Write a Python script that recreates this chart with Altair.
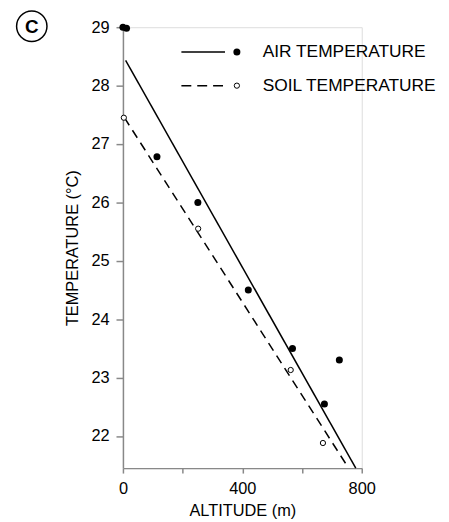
import altair as alt
import pandas as pd

# Air temperature observations (filled dots)
air_alt = [0, 12, 114, 251, 420, 568, 675, 725]
air_temp = [29.0, 28.98, 26.78, 26.0, 24.5, 23.5, 22.55, 23.3]

# Soil temperature observations (open dots)
soil_alt = [3, 252, 562, 670]
soil_temp = [27.45, 25.55, 23.13, 21.88]

# Regression lines (end points of fitted lines)
air_fit_alt = [9, 780]
air_fit_temp = [28.43, 21.45]
soil_fit_alt = [5, 756]
soil_fit_temp = [27.45, 21.45]

x_ticks = [0, 200, 400, 600, 800]
y_ticks = [22, 23, 24, 25, 26, 27, 28, 29]
legend_labels = ["AIR TEMPERATURE", "SOIL TEMPERATURE"]
panel_label = "C"

FONT = "Liberation Sans"

air_df = pd.DataFrame({"alt": air_alt, "temp": air_temp})
soil_df = pd.DataFrame({"alt": soil_alt, "temp": soil_temp})
air_fit = pd.DataFrame({"alt": air_fit_alt, "temp": air_fit_temp})
soil_fit = pd.DataFrame({"alt": soil_fit_alt, "temp": soil_fit_temp})

xscale = alt.Scale(domain=[0, 800], nice=False, zero=False)
yscale = alt.Scale(domain=[21.45, 29], nice=False, zero=False)

xaxis = alt.Axis(values=x_ticks, title="ALTITUDE (m)", tickSize=5, format="d",
                 labelExpr="datum.value % 400 == 0 ? datum.label : ''",
                 labelFontSize=16.5, titleFontSize=16.5, titleFontWeight="normal",
                 labelPadding=8, titlePadding=5, grid=False,
                 domainWidth=1.5, tickWidth=1.5, labelFlush=False)
yaxis = alt.Axis(values=y_ticks, title="TEMPERATURE (°C)", tickSize=7, format="d",
                 labelFontSize=16.5, titleFontSize=16.5, titleFontWeight="normal",
                 labelPadding=7, titlePadding=10, grid=False,
                 domainWidth=1.5, tickWidth=1.5)

base_x = alt.X("alt:Q", scale=xscale, axis=xaxis)
base_y = alt.Y("temp:Q", scale=yscale, axis=yaxis)

air_line = alt.Chart(air_fit).mark_line(color="black", strokeWidth=1.5).encode(
    x=alt.X("alt:Q", scale=xscale), y=alt.Y("temp:Q", scale=yscale))
soil_line = alt.Chart(soil_fit).mark_line(color="black", strokeWidth=1.5,
                                          strokeDash=[9, 6]).encode(
    x=alt.X("alt:Q", scale=xscale), y=alt.Y("temp:Q", scale=yscale))

air_pts = alt.Chart(air_df).mark_point(filled=True, color="black", size=50,
                                       opacity=1).encode(x=base_x, y=base_y)
soil_pts = alt.Chart(soil_df).mark_point(filled=False, color="black", size=28,
                                         strokeWidth=1, opacity=1,
                                         fill="white").encode(
    x=alt.X("alt:Q", scale=xscale), y=alt.Y("temp:Q", scale=yscale))

# Legend (drawn manually)
leg_air_line = alt.Chart().mark_rule(color="black", strokeWidth=1.5).encode(
    x=alt.value(59), x2=alt.value(103), y=alt.value(25))
leg_air_pt = alt.Chart().mark_point(filled=True, color="black", size=50,
                                    opacity=1).encode(
    x=alt.value(115), y=alt.value(25))
leg_air_txt = alt.Chart().mark_text(text=legend_labels[0], align="left",
                                    baseline="middle", font=FONT, fontSize=17.5,
                                    color="black").encode(
    x=alt.value(141), y=alt.value(25))
leg_soil_line = alt.Chart().mark_rule(color="black", strokeWidth=1.5,
                                      strokeDash=[10, 6]).encode(
    x=alt.value(59), x2=alt.value(103), y=alt.value(59))
leg_soil_pt = alt.Chart().mark_point(filled=False, color="black", size=28,
                                     strokeWidth=1, opacity=1).encode(
    x=alt.value(115), y=alt.value(59))
leg_soil_txt = alt.Chart().mark_text(text=legend_labels[1], align="left",
                                     baseline="middle", font=FONT, fontSize=17.5,
                                     color="black").encode(
    x=alt.value(141), y=alt.value(59))

# Panel label "C" in a circle
panel_circle = alt.Chart().mark_point(shape="circle", filled=False, color="black",
                                      size=940, strokeWidth=1.5, opacity=1).encode(
    x=alt.value(-92), y=alt.value(-1))
panel_txt = alt.Chart().mark_text(text=panel_label, align="center",
                                  baseline="middle", font=FONT, fontSize=19,
                                  fontWeight="bold", color="black").encode(
    x=alt.value(-92), y=alt.value(0))

chart = alt.layer(
    air_pts, air_line, soil_line, soil_pts,
    leg_air_line, leg_air_pt, leg_air_txt,
    leg_soil_line, leg_soil_pt, leg_soil_txt,
    panel_circle, panel_txt,
).properties(
    width=241, height=445,
    autosize=alt.AutoSizeParams(type="none"),
    padding={"left": 116, "top": 17, "right": 80, "bottom": 52},
).configure_view(stroke=None).configure_axis(
    domainColor="black", tickColor="black", labelColor="black",
    titleColor="black", labelFont=FONT, titleFont=FONT,
).configure(background="white")

chart.save("out.html", embed_options={"renderer": "svg", "actions": False})
